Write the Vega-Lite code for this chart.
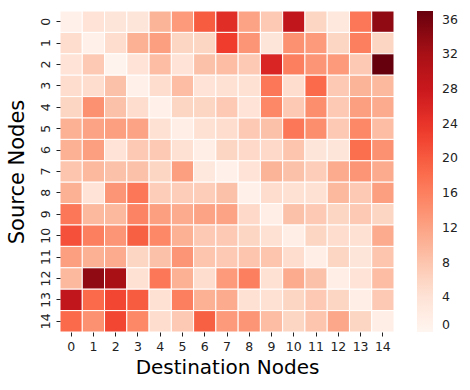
{
  "$schema": "https://vega.github.io/schema/vega-lite/v6.json",
  "width": 334,
  "height": 321,
  "autosize": "none",
  "padding": {"left": 60, "top": 11, "right": 76, "bottom": 58},
  "background": "white",
  "config": {
    "view": {"stroke": null},
    "font": "DejaVu Sans",
    "axis": {"labelFont": "DejaVu Sans", "titleFont": "DejaVu Sans", "labelColor": "#222", "titleColor": "#000", "tickColor": "#222"}
  },
  "data": {"values": [
    {"s":0,"d":0,"v":1},{"s":0,"d":1,"v":4},{"s":0,"d":2,"v":3.5},{"s":0,"d":3,"v":3.5},{"s":0,"d":4,"v":10},{"s":0,"d":5,"v":13},{"s":0,"d":6,"v":20},{"s":0,"d":7,"v":25},{"s":0,"d":8,"v":12},{"s":0,"d":9,"v":7.5},{"s":0,"d":10,"v":29},{"s":0,"d":11,"v":6},{"s":0,"d":12,"v":3},{"s":0,"d":13,"v":17},{"s":0,"d":14,"v":34},
    {"s":1,"d":0,"v":5},{"s":1,"d":1,"v":1},{"s":1,"d":2,"v":5},{"s":1,"d":3,"v":10.5},{"s":1,"d":4,"v":12.5},{"s":1,"d":5,"v":6},{"s":1,"d":6,"v":6},{"s":1,"d":7,"v":23},{"s":1,"d":8,"v":13.5},{"s":1,"d":9,"v":3.5},{"s":1,"d":10,"v":14},{"s":1,"d":11,"v":13},{"s":1,"d":12,"v":6},{"s":1,"d":13,"v":16},{"s":1,"d":14,"v":6},
    {"s":2,"d":0,"v":4},{"s":2,"d":1,"v":7.5},{"s":2,"d":2,"v":0.5},{"s":2,"d":3,"v":4},{"s":2,"d":4,"v":9},{"s":2,"d":5,"v":4},{"s":2,"d":6,"v":8.5},{"s":2,"d":7,"v":9},{"s":2,"d":8,"v":7.5},{"s":2,"d":9,"v":26},{"s":2,"d":10,"v":16},{"s":2,"d":11,"v":13.5},{"s":2,"d":12,"v":13},{"s":2,"d":13,"v":7.5},{"s":2,"d":14,"v":37},
    {"s":3,"d":0,"v":5},{"s":3,"d":1,"v":5},{"s":3,"d":2,"v":8.5},{"s":3,"d":3,"v":1},{"s":3,"d":4,"v":5},{"s":3,"d":5,"v":9},{"s":3,"d":6,"v":4},{"s":3,"d":7,"v":4.5},{"s":3,"d":8,"v":4.5},{"s":3,"d":9,"v":17},{"s":3,"d":10,"v":5},{"s":3,"d":11,"v":18.5},{"s":3,"d":12,"v":7.5},{"s":3,"d":13,"v":10},{"s":3,"d":14,"v":9.5},
    {"s":4,"d":0,"v":6},{"s":4,"d":1,"v":14},{"s":4,"d":2,"v":8.5},{"s":4,"d":3,"v":5},{"s":4,"d":4,"v":1},{"s":4,"d":5,"v":6},{"s":4,"d":6,"v":6},{"s":4,"d":7,"v":7.5},{"s":4,"d":8,"v":4},{"s":4,"d":9,"v":15},{"s":4,"d":10,"v":7.5},{"s":4,"d":11,"v":14.5},{"s":4,"d":12,"v":7.5},{"s":4,"d":13,"v":12.5},{"s":4,"d":14,"v":11},
    {"s":5,"d":0,"v":10.5},{"s":5,"d":1,"v":12},{"s":5,"d":2,"v":12.5},{"s":5,"d":3,"v":12},{"s":5,"d":4,"v":4.5},{"s":5,"d":5,"v":1.5},{"s":5,"d":6,"v":4.5},{"s":5,"d":7,"v":5},{"s":5,"d":8,"v":7.5},{"s":5,"d":9,"v":8.5},{"s":5,"d":10,"v":17},{"s":5,"d":11,"v":14.5},{"s":5,"d":12,"v":7.5},{"s":5,"d":13,"v":15},{"s":5,"d":14,"v":9},
    {"s":6,"d":0,"v":10.5},{"s":6,"d":1,"v":12.5},{"s":6,"d":2,"v":4},{"s":6,"d":3,"v":7.5},{"s":6,"d":4,"v":7.5},{"s":6,"d":5,"v":4.5},{"s":6,"d":6,"v":1.5},{"s":6,"d":7,"v":6},{"s":6,"d":8,"v":5.5},{"s":6,"d":9,"v":5.5},{"s":6,"d":10,"v":8},{"s":6,"d":11,"v":3.5},{"s":6,"d":12,"v":3.5},{"s":6,"d":13,"v":18},{"s":6,"d":14,"v":14},
    {"s":7,"d":0,"v":8},{"s":7,"d":1,"v":9.5},{"s":7,"d":2,"v":8.5},{"s":7,"d":3,"v":8.5},{"s":7,"d":4,"v":6},{"s":7,"d":5,"v":12.5},{"s":7,"d":6,"v":3},{"s":7,"d":7,"v":1},{"s":7,"d":8,"v":4},{"s":7,"d":9,"v":10},{"s":7,"d":10,"v":8.5},{"s":7,"d":11,"v":7},{"s":7,"d":12,"v":11},{"s":7,"d":13,"v":13.5},{"s":7,"d":14,"v":11},
    {"s":8,"d":0,"v":10.5},{"s":8,"d":1,"v":4},{"s":8,"d":2,"v":13.5},{"s":8,"d":3,"v":17},{"s":8,"d":4,"v":7},{"s":8,"d":5,"v":7},{"s":8,"d":6,"v":7},{"s":8,"d":7,"v":8.5},{"s":8,"d":8,"v":1},{"s":8,"d":9,"v":5},{"s":8,"d":10,"v":4.5},{"s":8,"d":11,"v":4.5},{"s":8,"d":12,"v":9.5},{"s":8,"d":13,"v":7.5},{"s":8,"d":14,"v":12.5},
    {"s":9,"d":0,"v":17},{"s":9,"d":1,"v":9.5},{"s":9,"d":2,"v":9.5},{"s":9,"d":3,"v":15.5},{"s":9,"d":4,"v":12.5},{"s":9,"d":5,"v":11},{"s":9,"d":6,"v":12},{"s":9,"d":7,"v":12},{"s":9,"d":8,"v":5.5},{"s":9,"d":9,"v":1.5},{"s":9,"d":10,"v":8.5},{"s":9,"d":11,"v":7.5},{"s":9,"d":12,"v":6},{"s":9,"d":13,"v":7.5},{"s":9,"d":14,"v":6},
    {"s":10,"d":0,"v":21},{"s":10,"d":1,"v":16},{"s":10,"d":2,"v":13.5},{"s":10,"d":3,"v":19.5},{"s":10,"d":4,"v":15},{"s":10,"d":5,"v":10.5},{"s":10,"d":6,"v":7.5},{"s":10,"d":7,"v":7.5},{"s":10,"d":8,"v":6},{"s":10,"d":9,"v":4.5},{"s":10,"d":10,"v":1.5},{"s":10,"d":11,"v":6},{"s":10,"d":12,"v":5},{"s":10,"d":13,"v":4.5},{"s":10,"d":14,"v":11},
    {"s":11,"d":0,"v":12.5},{"s":11,"d":1,"v":10.5},{"s":11,"d":2,"v":11},{"s":11,"d":3,"v":6},{"s":11,"d":4,"v":8.5},{"s":11,"d":5,"v":13.5},{"s":11,"d":6,"v":8},{"s":11,"d":7,"v":7.5},{"s":11,"d":8,"v":8},{"s":11,"d":9,"v":8},{"s":11,"d":10,"v":5},{"s":11,"d":11,"v":1.5},{"s":11,"d":12,"v":6},{"s":11,"d":13,"v":3.5},{"s":11,"d":14,"v":8},
    {"s":12,"d":0,"v":9.5},{"s":12,"d":1,"v":34},{"s":12,"d":2,"v":32},{"s":12,"d":3,"v":4.5},{"s":12,"d":4,"v":17},{"s":12,"d":5,"v":10.5},{"s":12,"d":6,"v":5},{"s":12,"d":7,"v":13},{"s":12,"d":8,"v":16},{"s":12,"d":9,"v":4.5},{"s":12,"d":10,"v":11},{"s":12,"d":11,"v":8.5},{"s":12,"d":12,"v":1.5},{"s":12,"d":13,"v":4},{"s":12,"d":14,"v":9},
    {"s":13,"d":0,"v":29},{"s":13,"d":1,"v":18.5},{"s":13,"d":2,"v":22},{"s":13,"d":3,"v":20},{"s":13,"d":4,"v":4.5},{"s":13,"d":5,"v":16},{"s":13,"d":6,"v":10.5},{"s":13,"d":7,"v":11},{"s":13,"d":8,"v":4.5},{"s":13,"d":9,"v":4.5},{"s":13,"d":10,"v":6},{"s":13,"d":11,"v":7.5},{"s":13,"d":12,"v":6},{"s":13,"d":13,"v":1.5},{"s":13,"d":14,"v":7.5},
    {"s":14,"d":0,"v":18.5},{"s":14,"d":1,"v":14},{"s":14,"d":2,"v":22},{"s":14,"d":3,"v":15},{"s":14,"d":4,"v":5},{"s":14,"d":5,"v":7.5},{"s":14,"d":6,"v":19.5},{"s":14,"d":7,"v":13},{"s":14,"d":8,"v":13.5},{"s":14,"d":9,"v":9},{"s":14,"d":10,"v":6},{"s":14,"d":11,"v":8},{"s":14,"d":12,"v":11.5},{"s":14,"d":13,"v":6},{"s":14,"d":14,"v":1.5}
  ]},
  "mark": {"type": "rect", "stroke": "white", "strokeWidth": 1},
  "encoding": {
    "x": {
      "field": "d", "type": "ordinal", "title": "Destination Nodes",
      "scale": {"paddingInner": 0, "paddingOuter": 0},
      "axis": {"labelAngle": 0, "labelFontSize": 12.5, "titleFontSize": 20, "titleFontWeight": "normal", "domain": false, "tickSize": 4, "labelPadding": 4, "titlePadding": 5}
    },
    "y": {
      "field": "s", "type": "ordinal", "title": "Source Nodes",
      "scale": {"paddingInner": 0, "paddingOuter": 0},
      "axis": {"labelAngle": -90, "labelAlign": "center", "labelBaseline": "bottom", "labelFontSize": 12.5, "titleFontSize": 21, "titleFontWeight": "normal", "domain": false, "tickSize": 4, "labelPadding": 4, "titlePadding": 12}
    },
    "color": {
      "field": "v", "type": "quantitative",
      "scale": {
        "domain": [0, 4.625, 9.25, 13.875, 18.5, 23.125, 27.75, 32.375, 37],
        "range": ["#fff5f0", "#fee0d2", "#fcbba1", "#fc9272", "#fb6a4a", "#ef3b2c", "#cb181d", "#a50f15", "#67000d"],
        "interpolate": "rgb"
      },
      "legend": {
        "title": null, "gradientLength": 321, "gradientThickness": 16,
        "values": [0, 4, 8, 12, 16, 20, 24, 28, 32, 36],
        "labelFontSize": 12.5, "labelOverlap": false, "offset": 23, "labelOffset": 9, "labelColor": "#222", "gradientStrokeWidth": 0
      }
    }
  }
}
